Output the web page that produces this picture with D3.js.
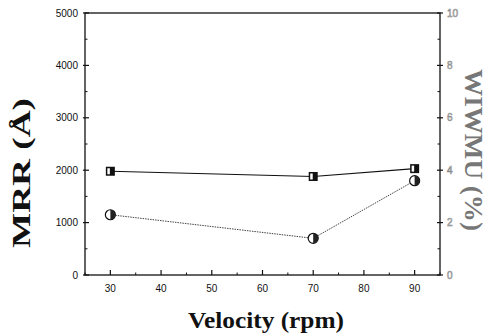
<!DOCTYPE html>
<html>
<head>
<meta charset="utf-8">
<script src="https://cdn.jsdelivr.net/npm/d3@7"></script>
<style>
  body { margin: 0; background: #fff; }
  svg { display: block; }
</style>
</head>
<body>
<svg id="chart" width="492" height="336"></svg>
<script>
const velocity = [30, 70, 90];
const mrr = [1980, 1880, 2030];
const wiwnu = [2.3, 1.4, 3.6];
const xTicks = [30, 40, 50, 60, 70, 80, 90];
const leftTicks = [0, 1000, 2000, 3000, 4000, 5000];
const rightTicks = [0, 2, 4, 6, 8, 10];

const svg = d3.select("#chart");
const margin = { top: 13, right: 52, bottom: 61, left: 85 };
const W = 492, H = 336;
const innerW = W - margin.left - margin.right;
const innerH = H - margin.top - margin.bottom;
const root = svg.append("g").attr("transform", `translate(${margin.left},${margin.top})`);

const x = d3.scaleLinear().domain([25, 95]).range([0, innerW]);
const yL = d3.scaleLinear().domain([0, 5000]).range([innerH, 0]);
const yR = d3.scaleLinear().domain([0, 10]).range([innerH, 0]);

const tickFont = "Liberation Sans, Arial, sans-serif";
const titleFont = "Liberation Serif, Times New Roman, serif";

// frame
root.append("rect")
  .attr("width", innerW).attr("height", innerH)
  .attr("fill", "none").attr("stroke", "#111").attr("stroke-width", 1.3);

// bottom axis: major ticks inward, minor every 5
const gx = root.append("g");
gx.selectAll("line.minor").data(d3.range(25, 96, 5).filter((v) => !xTicks.includes(v)))
  .join("line").attr("class", "minor")
  .attr("x1", (d) => x(d)).attr("x2", (d) => x(d))
  .attr("y1", innerH).attr("y2", innerH - 2.5)
  .attr("stroke", "#111");
gx.selectAll("line.major").data(xTicks).join("line").attr("class", "major")
  .attr("x1", (d) => x(d)).attr("x2", (d) => x(d))
  .attr("y1", innerH).attr("y2", innerH - 5)
  .attr("stroke", "#111").attr("stroke-width", 1.2);
gx.selectAll("text").data(xTicks).join("text")
  .attr("x", (d) => x(d)).attr("y", innerH + 17)
  .attr("text-anchor", "middle")
  .attr("font-family", tickFont).attr("font-size", 10).attr("fill", "#111")
  .text((d) => d);

// left axis
const gl = root.append("g");
gl.selectAll("line.minor").data(d3.range(500, 5000, 1000)).join("line").attr("class", "minor")
  .attr("x1", 0).attr("x2", 2.5)
  .attr("y1", (d) => yL(d)).attr("y2", (d) => yL(d)).attr("stroke", "#111");
gl.selectAll("line.major").data(leftTicks).join("line").attr("class", "major")
  .attr("x1", -2).attr("x2", 4)
  .attr("y1", (d) => yL(d)).attr("y2", (d) => yL(d))
  .attr("stroke", "#111").attr("stroke-width", 1.2);
gl.selectAll("text").data(leftTicks).join("text")
  .attr("x", -7).attr("y", (d) => yL(d)).attr("dy", "0.35em")
  .attr("text-anchor", "end")
  .attr("font-family", tickFont).attr("font-size", 10).attr("fill", "#111")
  .text((d) => d);

// right axis
const gr = root.append("g").attr("transform", `translate(${innerW},0)`);
gr.selectAll("line.minor").data(d3.range(1, 10, 2)).join("line").attr("class", "minor")
  .attr("x1", -2.5).attr("x2", 0)
  .attr("y1", (d) => yR(d)).attr("y2", (d) => yR(d)).attr("stroke", "#111");
gr.selectAll("line.major").data(rightTicks).join("line").attr("class", "major")
  .attr("x1", -3).attr("x2", 3)
  .attr("y1", (d) => yR(d)).attr("y2", (d) => yR(d))
  .attr("stroke", "#111").attr("stroke-width", 1.2);
gr.selectAll("text").data(rightTicks).join("text")
  .attr("x", 7).attr("y", (d) => yR(d)).attr("dy", "0.35em")
  .attr("font-family", tickFont).attr("font-size", 10)
  .attr("fill", "#fff").attr("stroke", "#888").attr("stroke-width", 0.6)
  .text((d) => d);

// series: MRR (squares, solid line)
const lineL = d3.line().x((d, i) => x(velocity[i])).y((d) => yL(d));
root.append("path").datum(mrr).attr("d", lineL)
  .attr("fill", "none").attr("stroke", "#111").attr("stroke-width", 1.2);

// series: WIWNU (circles, dotted line)
const lineR = d3.line().x((d, i) => x(velocity[i])).y((d) => yR(d));
root.append("path").datum(wiwnu).attr("d", lineR)
  .attr("fill", "none").attr("stroke", "#444").attr("stroke-width", 1)
  .attr("stroke-dasharray", "1.5,1");

const sq = 9;
const sqG = root.selectAll("g.sq").data(mrr).join("g").attr("class", "sq")
  .attr("transform", (d, i) => `translate(${x(velocity[i])},${yL(d)})`);
sqG.append("rect")
  .attr("x", -sq / 2).attr("y", -sq / 2).attr("width", sq).attr("height", sq)
  .attr("fill", "#111");
sqG.append("rect")
  .attr("x", -sq / 2 + 1.5).attr("y", -sq / 2 + 1.5).attr("width", 2.5).attr("height", sq - 3)
  .attr("fill", "#fff");

const cr = 5;
const cG = root.selectAll("g.ci").data(wiwnu).join("g").attr("class", "ci")
  .attr("transform", (d, i) => `translate(${x(velocity[i])},${yR(d)})`);
cG.append("circle").attr("r", cr).attr("fill", "#fff").attr("stroke", "#111").attr("stroke-width", 1.2);
cG.append("path")
  .attr("d", d3.arc()({ innerRadius: 0, outerRadius: cr, startAngle: 0, endAngle: Math.PI }))
  .attr("fill", "#222");

// axis titles
svg.append("text")
  .attr("transform", "translate(30,173) rotate(-90)")
  .attr("text-anchor", "middle")
  .attr("font-family", titleFont).attr("font-weight", "bold").attr("font-size", 26)
  .attr("textLength", 150).attr("lengthAdjust", "spacingAndGlyphs")
  .attr("fill", "#111")
  .text("MRR (Å)");

svg.append("text")
  .attr("transform", "translate(465,150) rotate(90)")
  .attr("text-anchor", "middle")
  .attr("font-family", titleFont).attr("font-weight", "bold").attr("font-size", 25)
  .attr("textLength", 162).attr("lengthAdjust", "spacingAndGlyphs")
  .attr("fill", "#777")
  .text("WIWMU (%)");

svg.append("text")
  .attr("x", 266).attr("y", 328)
  .attr("text-anchor", "middle")
  .attr("font-family", titleFont).attr("font-weight", "bold").attr("font-size", 24)
  .attr("textLength", 156).attr("lengthAdjust", "spacingAndGlyphs")
  .attr("fill", "#111")
  .text("Velocity (rpm)");
</script>
</body>
</html>
